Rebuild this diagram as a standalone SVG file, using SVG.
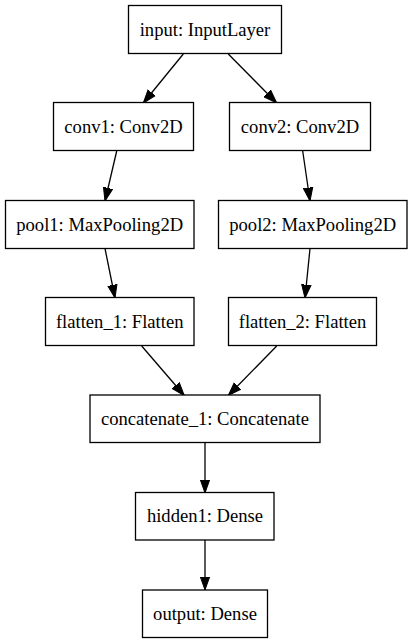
<svg xmlns="http://www.w3.org/2000/svg" width="413" height="644" viewBox="0 0 413 644">
<defs>
<marker id="arr" markerUnits="userSpaceOnUse" markerWidth="15" markerHeight="11" refX="13.3" refY="4.7" orient="auto" viewBox="0 0 15 9.4">
<path d="M0,0 L13.3,4.7 L0,9.4 z" fill="#000" stroke="#000" stroke-width="1"/>
</marker>
<style>
.n rect{fill:#fff;stroke:#000;stroke-width:1.3}
.n text{font-family:"Liberation Serif","Times New Roman",serif;font-size:18.6px;fill:#000;text-anchor:middle}
.e line{stroke:#000;stroke-width:1.3;marker-end:url(#arr)}
</style>
</defs>
<rect width="413" height="644" fill="#fff"/>
<g id="connectors" class="e">
<line x1="183.3" y1="54" x2="143.3" y2="103"/>
<line x1="228.3" y1="54" x2="276.7" y2="103"/>
<line x1="116.7" y1="151" x2="105" y2="201"/>
<line x1="302.7" y1="151" x2="310" y2="201"/>
<line x1="105" y1="248.5" x2="115" y2="298"/>
<line x1="310" y1="248.5" x2="305" y2="298"/>
<line x1="141.7" y1="346" x2="184.3" y2="395.5"/>
<line x1="276.7" y1="346" x2="228.3" y2="395.5"/>
<line x1="205" y1="443" x2="205" y2="493"/>
<line x1="205" y1="540" x2="205" y2="590"/>
</g>
<g id="input" class="n"><rect x="128.5" y="5.5" width="153" height="48"/><text x="205" y="35.5">input: InputLayer</text></g>
<g id="conv1" class="n"><rect x="53.5" y="102.5" width="140" height="48"/><text x="123.5" y="132.5">conv1: Conv2D</text></g>
<g id="conv2" class="n"><rect x="229.5" y="102.5" width="141" height="48"/><text x="300" y="132.5">conv2: Conv2D</text></g>
<g id="pool1" class="n"><rect x="5.5" y="200.5" width="188.5" height="48"/><text x="99.7" y="230.5">pool1: MaxPooling2D</text></g>
<g id="pool2" class="n"><rect x="218.5" y="200.5" width="188.5" height="48"/><text x="312.7" y="230.5">pool2: MaxPooling2D</text></g>
<g id="flatten_1" class="n"><rect x="45.5" y="297.5" width="148.5" height="48"/><text x="119.7" y="327.5">flatten_1: Flatten</text></g>
<g id="flatten_2" class="n"><rect x="228.5" y="297.5" width="148" height="48"/><text x="302.5" y="327.5">flatten_2: Flatten</text></g>
<g id="concatenate_1" class="n"><rect x="90" y="395" width="230" height="47.5"/><text x="205" y="424.5">concatenate_1: Concatenate</text></g>
<g id="hidden1" class="n"><rect x="135.5" y="492.5" width="138.5" height="47.5"/><text x="205" y="522">hidden1: Dense</text></g>
<g id="output" class="n"><rect x="142.5" y="590" width="125" height="47.5"/><text x="205" y="619.5">output: Dense</text></g>
</svg>
